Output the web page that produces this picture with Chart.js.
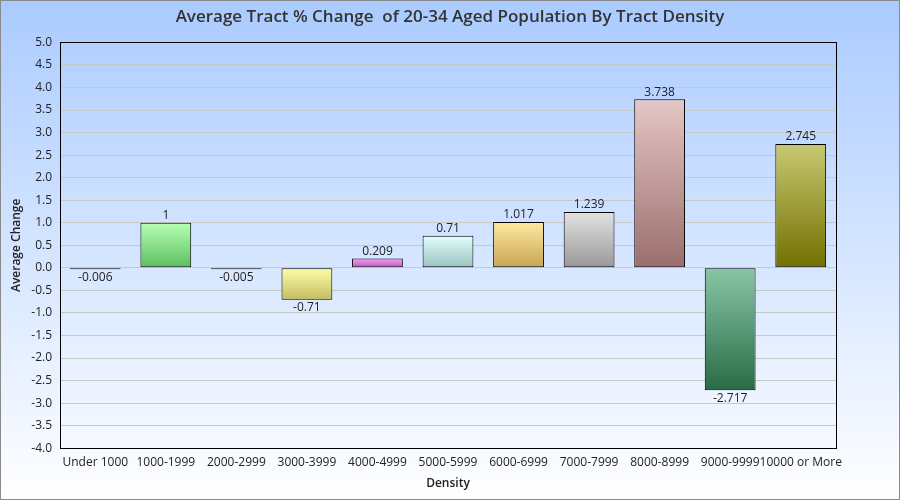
<!DOCTYPE html>
<html>
<head>
<meta charset="utf-8">
<script src="https://cdn.jsdelivr.net/npm/chart.js@4.4.0/dist/chart.umd.min.js"></script>
<style>
  html, body { margin: 0; padding: 0; background: #fff; }
  #wrap { width: 900px; height: 500px; }
</style>
</head>
<body>
<div id="wrap"><canvas id="densityChart" width="900" height="500"></canvas></div>
<script>
// Data
const densityLabels = ['Under 1000', '1000-1999', '2000-2999', '3000-3999', '4000-4999', '5000-5999',
  '6000-6999', '7000-7999', '8000-8999', '9000-9999', '10000 or More'];
const avgChange = [-0.006, 1, -0.005, -0.71, 0.209, 0.71, 1.017, 1.239, 3.738, -2.717, 2.745];
const yTicks = [-4, -3.5, -3, -2.5, -2, -1.5, -1, -0.5, 0, 0.5, 1, 1.5, 2, 2.5, 3, 3.5, 4, 4.5, 5];

// light (top) and dark (bottom) colour of each bar
const barTop = ['#c8dcff', '#b6ffb6', '#c8dcff', '#ffffaa', '#f2a2f2', '#e2fffd', '#ffe9a2', '#e2e2e2', '#e6c6c6', '#8ac6a6', '#c8c872'];
const barBottom = ['#7090c0', '#5cbf5c', '#7090c0', '#c6bc5e', '#c050c0', '#98c2be', '#c8a452', '#989898', '#9a6e6e', '#286c46', '#727000'];

const fontFamily = '"Open Sans", "Noto Sans", sans-serif';

// background gradient + outer frame
const backdrop = {
  id: 'backdrop',
  beforeDraw(chart) {
    const ctx = chart.ctx;
    const g = ctx.createLinearGradient(0, 0, 0, chart.height);
    g.addColorStop(0, '#aacbff');
    g.addColorStop(1, '#ffffff');
    ctx.save();
    ctx.fillStyle = g;
    ctx.fillRect(0, 0, chart.width, chart.height);
    ctx.restore();
  },
  afterDraw(chart) {
    const ctx = chart.ctx;
    const a = chart.chartArea;
    ctx.save();
    ctx.strokeStyle = '#000';
    ctx.lineWidth = 1;
    ctx.strokeRect(Math.round(a.left) + 0.5, Math.round(a.top) + 0.5, Math.round(a.right - a.left), Math.round(a.bottom - a.top));
    ctx.strokeStyle = '#8a8a8a';
    ctx.strokeRect(0.5, 0.5, chart.width - 1, chart.height - 1);
    ctx.restore();
  }
};

// value labels above / below the bars
const valueLabels = {
  id: 'valueLabels',
  afterDatasetsDraw(chart) {
    const ctx = chart.ctx;
    const meta = chart.getDatasetMeta(0);
    ctx.save();
    ctx.font = '12px ' + fontFamily;
    ctx.fillStyle = '#222';
    ctx.textAlign = 'center';
    meta.data.forEach((bar, i) => {
      const v = avgChange[i];
      if (v >= 0) {
        ctx.textBaseline = 'bottom';
        ctx.fillText(String(v), bar.x, Math.min(bar.y, bar.base) - 1);
      } else {
        ctx.textBaseline = 'top';
        ctx.fillText(String(v), bar.x, Math.max(bar.y, bar.base) + 2);
      }
    });
    ctx.restore();
  }
};

function barFill(context) {
  const chart = context.chart;
  const i = context.dataIndex;
  if (!chart.chartArea) return barTop[i];
  const y = chart.scales.y;
  const p0 = y.getPixelForValue(0);
  const p1 = y.getPixelForValue(avgChange[i]);
  const top = Math.min(p0, p1), bottom = Math.max(p0, p1);
  if (bottom - top < 2) return '#000';
  const g = chart.ctx.createLinearGradient(0, top, 0, bottom);
  g.addColorStop(0, barTop[i]);
  g.addColorStop(1, barBottom[i]);
  return g;
}

const ctxDensity = document.getElementById('densityChart').getContext('2d');
const densityChart = new Chart(ctxDensity, {
  type: 'bar',
  data: {
    labels: densityLabels,
    datasets: [{
      label: 'Average Change',
      data: avgChange,
      backgroundColor: barFill,
      borderColor: '#000',
      borderWidth: 1,
      borderSkipped: false,
      minBarLength: 1.5,
      barPercentage: 0.72,
      categoryPercentage: 1
    }]
  },
  options: {
    responsive: false,
    animation: false,
    devicePixelRatio: 1,
    layout: { padding: { left: 9, right: 9, top: 0, bottom: 9 } },
    plugins: {
      legend: { display: false },
      tooltip: { enabled: false },
      title: {
        display: true,
        text: 'Average Tract % Change  of 20-34 Aged Population By Tract Density',
        color: '#333',
        font: { family: fontFamily, size: 17, weight: '600' },
        padding: { top: 7, bottom: 15 }
      }
    },
    scales: {
      x: {
        grid: { display: false, drawTicks: false },
        border: { display: false },
        ticks: {
          color: '#222',
          font: { family: fontFamily, size: 12 },
          maxRotation: 0,
          autoSkip: false,
          padding: 7
        },
        title: {
          display: true,
          text: 'Density',
          color: '#222',
          font: { family: fontFamily, size: 12, weight: '600' },
          padding: { top: 0, bottom: 0 }
        }
      },
      y: {
        min: -4,
        max: 5,
        afterBuildTicks(scale) {
          scale.ticks = yTicks.map(v => ({ value: v }));
        },
        afterFit(scale) {
          scale.width = 51;
        },
        grid: { color: '#c8c8c8', drawTicks: false },
        border: { display: false },
        ticks: {
          color: '#222',
          font: { family: fontFamily, size: 12 },
          padding: 8,
          callback: v => Number(v).toFixed(1)
        },
        title: {
          display: true,
          text: 'Average Change',
          color: '#222',
          font: { family: fontFamily, size: 12, weight: '600' },
          padding: { top: 0, bottom: 2 }
        }
      },
      // empty right-hand margin so the title stays centred on the canvas
      yRight: {
        position: 'right',
        min: -4,
        max: 5,
        grid: { display: false, drawTicks: false },
        border: { display: false },
        ticks: { display: false },
        afterFit(scale) {
          scale.width = 55;
        }
      }
    }
  },
  plugins: [backdrop, valueLabels]
});
</script>
</body>
</html>
